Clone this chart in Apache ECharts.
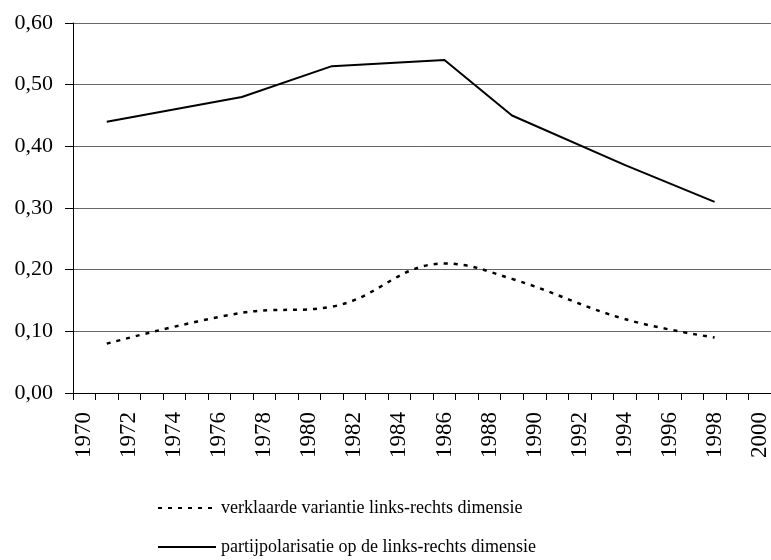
<!DOCTYPE html>
<html>
<head>
<meta charset="utf-8">
<script src="https://cdn.jsdelivr.net/npm/echarts@6/dist/echarts.min.js"></script>
<style>
  html, body { margin: 0; padding: 0; background: #fff; }
  #chart { width: 771px; height: 560px; }
</style>
</head>
<body>
<div id="chart"></div>
<script>
// categories on the x axis
var years = [];
for (var y = 1970; y <= 2000; y++) years.push(String(y));

// observed years and values
var obsYears = [1971, 1977, 1981, 1986, 1989, 1994, 1998];
var variantie = [0.08, 0.13, 0.14, 0.21, 0.185, 0.12, 0.09];
var polarisatie = [0.44, 0.48, 0.53, 0.54, 0.45, 0.37, 0.31];

var seriesNames = [
    'verklaarde variantie links-rechts dimensie',
    'partijpolarisatie op de links-rechts dimensie'
];

function pairs(vals) {
    var out = [];
    for (var i = 0; i < obsYears.length; i++) {
        out.push([String(obsYears[i]), vals[i]]);
    }
    return out;
}

var font = '"Liberation Serif", "Times New Roman", serif';

var myChart = echarts.init(document.getElementById('chart'));

var option = {
    backgroundColor: '#fff',
    animation: false,
    textStyle: { fontFamily: font, color: '#000' },
    grid: { left: 73, top: 23, right: -8, bottom: 167, containLabel: false },
    legend: {
        orient: 'vertical',
        left: 157,
        top: 499,
        padding: 0,
        itemWidth: 58,
        itemHeight: 14,
        itemGap: 21,
        itemStyle: { opacity: 0 },
        textStyle: { fontFamily: font, fontSize: 18, lineHeight: 18, color: '#000' },
        data: seriesNames
    },
    xAxis: {
        type: 'category',
        data: years,
        boundaryGap: true,
        axisLine: { lineStyle: { color: '#000', width: 1 } },
        axisTick: { show: true, interval: 0, length: 7, lineStyle: { color: '#000' } },
        axisLabel: {
            interval: 1,
            rotate: 90,
            margin: 19,
            fontFamily: font,
            fontSize: 23,
            color: '#000'
        },
        splitLine: { show: false }
    },
    yAxis: {
        type: 'value',
        min: 0,
        max: 0.6,
        interval: 0.1,
        axisLine: { show: true, lineStyle: { color: '#000', width: 1 } },
        axisTick: { show: true, length: 8, lineStyle: { color: '#000' } },
        axisLabel: {
            margin: 20,
            fontFamily: font,
            fontSize: 22,
            color: '#000',
            formatter: function (v) { return v.toFixed(2).replace('.', ','); }
        },
        splitLine: { show: true, lineStyle: { color: '#666', width: 1 } }
    },
    series: [
        {
            name: seriesNames[0],
            type: 'line',
            data: pairs(variantie),
            smooth: 0.4,
            symbol: 'none',
            connectNulls: true,
            lineStyle: { color: '#000', width: 2.5, type: [4, 6], cap: 'butt' },
            itemStyle: { color: '#000' }
        },
        {
            name: seriesNames[1],
            type: 'line',
            data: pairs(polarisatie),
            symbol: 'none',
            connectNulls: true,
            lineStyle: { color: '#000', width: 2, type: 'solid' },
            itemStyle: { color: '#000' }
        }
    ]
};

myChart.setOption(option);
</script>
</body>
</html>
